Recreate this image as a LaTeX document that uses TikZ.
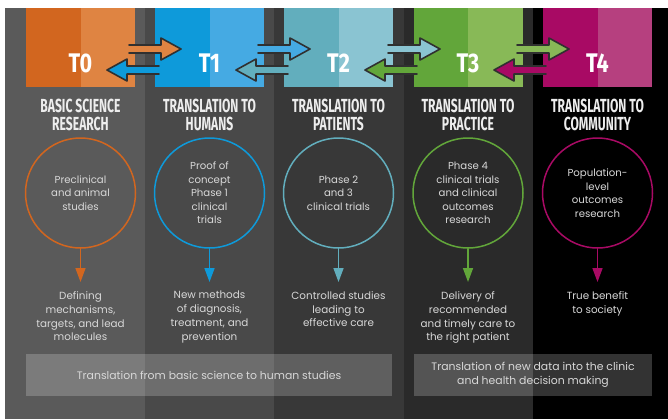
\documentclass[tikz,border=0pt]{standalone}
\usepackage{fontspec}
\setmainfont{Poppins}
\newfontfamily\headfont[FakeStretch=0.64]{Fira Sans}
\newfontfamily\tfont[FakeStretch=0.8]{Fira Sans}
\usetikzlibrary{arrows.meta}
\definecolor{orgD}{HTML}{D2661F}
\definecolor{orgL}{HTML}{DF8442}
\definecolor{bluD}{HTML}{0E9ADA}
\definecolor{bluL}{HTML}{45AAE3}
\definecolor{teaD}{HTML}{62AEBD}
\definecolor{teaL}{HTML}{8AC4D2}
\definecolor{grnD}{HTML}{62A63A}
\definecolor{grnL}{HTML}{88B957}
\definecolor{magD}{HTML}{A80A64}
\definecolor{magL}{HTML}{B6407F}
\definecolor{bgA}{HTML}{5A5A5A}
\definecolor{bgB}{HTML}{494949}
\definecolor{bgC}{HTML}{383838}
\definecolor{bgD}{HTML}{2A2A2A}
\definecolor{edge}{HTML}{303030}
\definecolor{headtxt}{HTML}{EDEDED}
\definecolor{bodytxt}{HTML}{D8D8D8}
\tikzset{
  pics/fatarr/.style={code={
    \fill[#1] (0,0) -- (-20,-11) -- (-20,-4) -- (-52,-4) -- (-52,4) -- (-20,4) -- (-20,11) -- cycle;
    \draw[edge,line width=1.6bp] (-52,-4) -- (-20,-4) -- (-20,-11) -- (0,0) -- (-20,11) -- (-20,4) -- (-52,4);
  }}
}
\begin{document}
\begin{tikzpicture}[line cap=round,line join=round,x=1bp,y=-1bp,
  >={Triangle[length=14bp,width=10bp]},
  blk/.style 2 args={minimum width=109bp,minimum height=79bp,inner sep=0pt,fill=#2,
    path picture={\fill[#1] (path picture bounding box.north west) rectangle (path picture bounding box.south);}},
  tlbl/.style={text=white,font=\tfont\bfseries\fontsize{27}{27}\selectfont},
  head/.style={text=headtxt,align=center,font=\headfont\bfseries\fontsize{19}{18}\selectfont},
  ring/.style={circle,draw=#1,line width=1.5bp,minimum size=110bp,inner sep=0pt,
    text=bodytxt,align=center,font=\fontsize{10.2}{13.6}\selectfont},
  outcome/.style={inner xsep=0pt,inner ysep=9bp,text=bodytxt,align=center,
    font=\fontsize{10.4}{14}\selectfont},
  band/.style={fill=white,fill opacity=0.2,text opacity=1,text=bodytxt,minimum height=42bp,
    align=center,font=\fontsize{10.9}{13.5}\selectfont}]
\useasboundingbox (0,0) rectangle (668,419);
\fill[white] (0,0) rectangle (668,419);
\fill[bgA] (5,8) rectangle (145,419);
\fill[bgB] (145,8) rectangle (274,419);
\fill[bgC] (274,8) rectangle (404,419);
\fill[bgD] (404,8) rectangle (533,419);
\fill[black] (533,8) rectangle (668,419);
\node[blk={orgD}{orgL}] (t0) at (80.5,47.5) {};
\node[blk={bluD}{bluL}] (t1) at (209.5,47.5) {};
\node[blk={teaD}{teaL}] (t2) at (338.5,47.5) {};
\node[blk={grnD}{grnL}] (t3) at (468,47.5) {};
\node[blk={magD}{magL}] (t4) at (597.5,47.5) {};
\pic at (181,49) {fatarr=orgL};
\pic[xscale=-1] at (107,70) {fatarr=bluD};
\pic at (310,49) {fatarr=bluL};
\pic[xscale=-1] at (236,70) {fatarr=teaD};
\pic at (440,49) {fatarr=teaL};
\pic[xscale=-1] at (365,70) {fatarr=grnD};
\pic at (569,49) {fatarr=grnL};
\pic[xscale=-1] at (494,70) {fatarr=magD};
\node[tlbl] (l0) at (80.5,63) {T0};
\node[tlbl] (l1) at (209.5,63) {T1};
\node[tlbl] (l2) at (338.5,63) {T2};
\node[tlbl] (l3) at (468,63) {T3};
\node[tlbl] (l4) at (597.5,63) {T4};
\node[head] (h0) at (80.5,114.5) {BASIC SCIENCE\\RESEARCH};
\node[head] (h1) at (209.5,114.5) {TRANSLATION TO\\HUMANS};
\node[head] (h2) at (338.5,114.5) {TRANSLATION TO\\PATIENTS};
\node[head] (h3) at (468,114.5) {TRANSLATION TO\\PRACTICE};
\node[head] (h4) at (597.5,114.5) {TRANSLATION TO\\COMMUNITY};
\node[ring=orgD] (c0) at (80.5,193) {Preclinical\\and animal\\studies};
\node[ring=bluD] (c1) at (209.5,193) {Proof of\\concept\\Phase 1\\clinical\\trials};
\node[ring=teaD] (c2) at (338.5,193) {Phase 2\\and 3\\clinical trials};
\node[ring=grnD] (c3) at (468,193) {Phase 4\\clinical trials\\and clinical\\outcomes\\research};
\node[ring=magD] (c4) at (597.5,193) {Population-\\level\\outcomes\\research};
\node[outcome,anchor=north] (d0) at (80.5,282) {Defining\\mechanisms,\\targets, and lead\\molecules};
\node[outcome,anchor=north] (d1) at (209.5,282) {New methods\\of diagnosis,\\treatment, and\\prevention};
\node[outcome,anchor=north] (d2) at (338.5,282) {Controlled studies\\leading to\\effective care};
\node[outcome,anchor=north] (d3) at (468,282) {Delivery of\\recommended\\and timely care to\\the right patient};
\node[outcome,anchor=north] (d4) at (597.5,282) {True benefit\\to society};
\draw[orgD,line width=1.5bp,->] (c0) -- (d0);
\draw[bluD,line width=1.5bp,->] (c1) -- (d1);
\draw[teaD,line width=1.5bp,->] (c2) -- (d2);
\draw[grnD,line width=1.5bp,->] (c3) -- (d3);
\draw[magD,line width=1.5bp,->] (c4) -- (d4);
\node[band,minimum width=366bp] (b0) at (209,375) {Translation from basic science to human studies};
\node[band,minimum width=238bp] (b1) at (533,375) {Translation of new data into the clinic\\and health decision making};
\end{tikzpicture}
\end{document}
